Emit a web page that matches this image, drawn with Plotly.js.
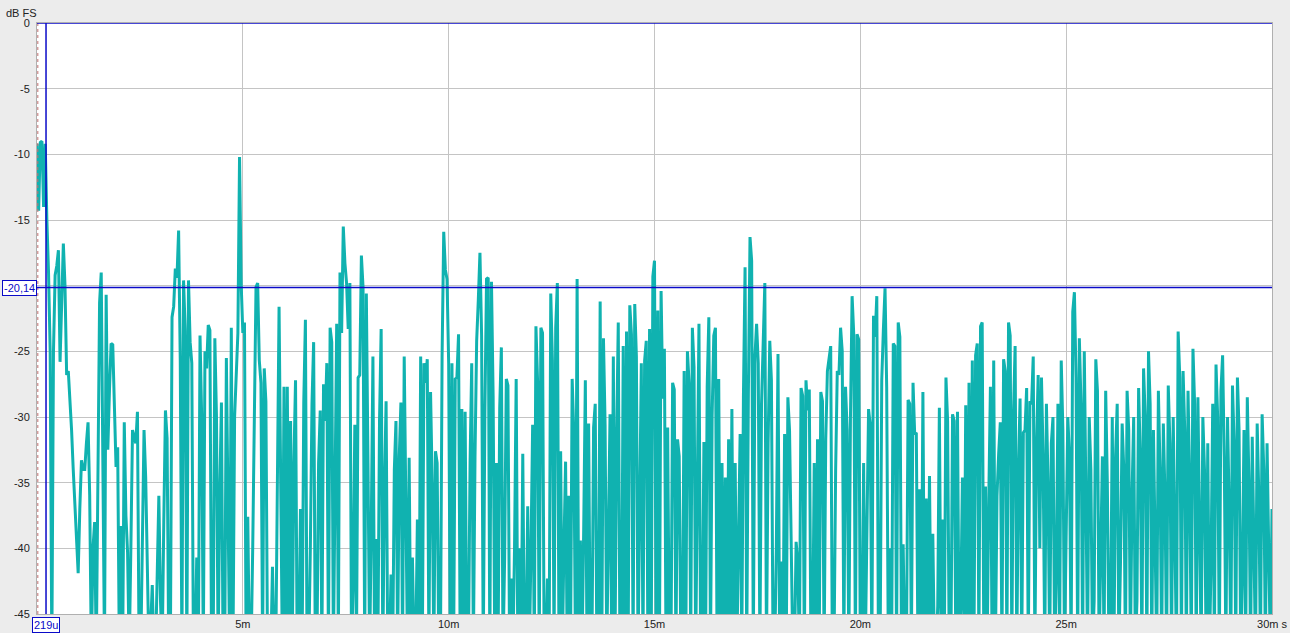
<!DOCTYPE html>
<html>
<head>
<meta charset="utf-8">
<script src="https://cdn.plot.ly/plotly-3.0.1.min.js"></script>
<style>
html,body{margin:0;padding:0;background:#ececec;}
#chart{width:1290px;height:633px;}
</style>
</head>
<body>
<div id="chart"></div>
<script>
// Sample spacing of the measurement (ms)
const sampleStepMs = 0.04;

// Level in dB FS, one value per sample (values below -45 fall off the bottom of the plot)
const levelDb = [
  // 0 - 3.2 ms
  -9.2,-14.3,-9.1,-9.0,-14,-9.2,-15,-19,-25,-48,
  -25,-19.2,-18.5,-17.3,-25.8,-20,-16.8,-20,-26.8,-26.5,
  -28.5,-31,-34,-37,-39.5,-41.9,-37,-33.3,-34,-34,
  -32,-30.4,-36,-48,-40,-38,-48,-33.5,-21.3,-19,
  -35,-48,-20.7,-32.5,-28,-24.4,-24.5,-29,-33.8,-32.3,
  -48,-38.3,-48,-30.4,-37.5,-40.3,-48,-40,-31,-31.5,
  -32,-29.6,-48,-48,-40,-31,-34.6,-42.7,-48,-46,
  -42.8,-48,-48,-42,-36,-44,-48,-38,-29.5,-31.6,
  // 3.2 - 6.2 ms
  -48,-48,-22.4,-21.6,-18.7,-19.4,-15.8,-25.7,-48,-19.6,
  -23.4,-48,-19.6,-24.3,-25.9,-48,-48,-40.7,-48,-23.8,
  -30,-48,-25,-26.3,-23,-23.4,-48,-48,-24,-30,
  -48,-35.7,-28.9,-48,-48,-25.5,-35.6,-48,-23.2,-48,
  -30,-26.6,-23.6,-10.2,-19.9,-23.6,-22.8,-48,-37.6,-48,
  -48,-40,-29.7,-20.1,-19.8,-25.7,-27.4,-48,-26.3,-28.8,
  -48,-48,-48,-41.4,-48,-48,-31,-21.6,-35,-48,
  -27.7,-48,-27.7,-45.5,-30.3,
  // 6.2 - 9.2 ms
  -48,
  -33.5,-27.2,-48,-48,-37,-48,-28.9,-22.6,-48,-48,
  -40,-29,-24.3,-48,-48,-33.5,-29.5,-48,-27.5,-30.3,
  -25.9,-48,-23.2,-24.3,-48,-32.5,-22.9,-48,-19,-23.6,
  -15.5,-18.3,-19.8,-23.3,-19.8,-48,-42.7,-30.6,-48,-27,
  -26.8,-17.7,-20.1,-48,-20.6,-33.5,-48,-38.5,-25.4,-48,
  -39.3,-48,-30.3,-23.3,-48,-35.5,-28.8,-48,-48,-42,
  -48,-34,-30.3,-48,-33,-28.9,-48,-25.4,-35.7,-48,
  -33.1,-48,-40.7,-48,
  // 9.2 - 12.24 ms
  -48,-37.8,-48,-25.4,-48,-25.9,-27.4,-25.6,-48,-28.1,
  -35,-48,-32.6,-33.5,-48,-48,-25.4,-15.9,-18.8,-19.5,
  -25.9,-48,-25.9,-48,-27.1,-27,-23.7,-48,-29.4,-48,
  -29.6,-48,-48,-33.5,-25.9,-48,-33,-24.2,-21.1,-17.5,
  -23.8,-48,-29.6,-19.5,-19.4,-48,-19.7,-28.4,-48,-33.5,
  -48,-29.3,-24.7,-48,-40.7,-27.1,-27.6,-48,-42.3,-48,
  -40,-27.1,-48,-40,-48,-32.8,-48,-48,-36.8,-48,
  -40,-30.6,-48,-23.1,-27.3,-48,
  // 12.24 - 15.28 ms
  -23.2,-23.6,-48,-48,-42.3,-48,-20.6,-25.7,-48,-23.2,
  -19.8,-48,-32.6,-48,-40,-33.4,-48,-36,-48,-27.1,
  -31.3,-48,-19.5,-48,-39.4,-48,-38.6,-27.2,-48,-30.5,
  -48,-48,-30.8,-29,-48,-48,-21.2,-48,-24,-30.6,
  -48,-36.7,-29.8,-48,-25.4,-48,-31.4,-22.8,-48,-48,
  -24.6,-48,-23.5,-48,-21.5,-23.7,-48,-21.4,-25.4,-48,
  -35.2,-25.9,-48,-25.7,-24.2,-48,-23.3,-48,-19.3,-18.1,
  -48,-21.9,-48,-20.4,-28.6,-24.8,
  // 15.28 - 18.32 ms
  -48,-30.8,-48,-48,-27.4,-27.9,-48,-31.7,-33,-48,
  -48,-26.5,-48,-25,-27.4,-48,-23.2,-26.2,-48,-33.5,
  -22.9,-48,-48,-31.9,-48,-27.7,-22.4,-48,-29.9,-23.8,
  -23.2,-48,-27.1,-48,-33.5,-48,-34.6,-48,-31.7,-48,
  -29.4,-48,-33.5,-48,-40,-31.3,-48,-28.5,-18.6,-48,
  -28.2,-16.3,-18.1,-48,-25.4,-22.9,-25.9,-48,-29,-23.7,
  -19.8,-48,-32,-24.2,-27.2,-48,-48,-39.9,-25.2,-48,
  -41,-48,-31.3,-48,-28.5,-31,
  // 18.32 - 21.36 ms
  -41,-48,-48,-39.5,-41,-48,-27.8,-28.4,-48,-27.2,
  -29.5,-27.9,-48,-48,-33.5,-48,-31.7,-48,-28.1,-28.8,
  -48,-31.7,-26.5,-25.6,-24.6,-48,-48,-34.1,-26.5,-26.8,
  -23.2,-25,-48,-27.7,-31,-48,-30.1,-20.8,-23.7,-48,
  -23.7,-24.1,-48,-48,-33.5,-48,-40.4,-29.4,-30.6,-48,
  -22.3,-23.9,-20.8,-48,-48,-27.2,-23.3,-20.2,-27.7,-48,
  -40,-48,-24.4,-24.6,-48,-22.8,-23.9,-48,-39.7,-48,
  -48,-28.7,-29,-48,-27.4,-31.3,
  // 21.36 - 24.4 ms
  -31.2,-48,-35.5,-48,-28.1,-48,-36.2,-48,-34.5,-48,
  -38.9,-48,-48,-44.4,-29.3,-48,-37.8,-48,-27,-30.3,
  -48,-48,-29.8,-30.3,-48,-29.6,-48,-44.4,-34.6,-48,
  -29.1,-48,-27.4,-48,-25.7,-48,-25.3,-24.4,-48,-23.1,
  -22.8,-48,-35.3,-48,-36.3,-27.7,-48,-25.7,-48,-36,
  -32.8,-30.4,-48,-25.6,-26.5,-48,-22.8,-23.8,-48,-29.8,
  -24.6,-48,-34.3,-28.6,-48,-31.2,-31,-27.8,-48,-28.8,
  -29,-25.4,-48,-32,-26.8,-40,
  // 24.4 - 30 ms
  -27,-33,-48,-29,-35,-48,-32,-30,-48,-42,
  -29,-48,-25.7,-31,-48,-38,-30,-33,-48,-22,
  -20.5,-27,-48,-24,-29,-48,-25,-36,-48,-30,
  -34,-48,-44,-25.6,-28,-48,-40,-33,-48,-28,
  -35,-48,-46,-30,-48,-33,-29,-48,-41,-30.5,
  -34,-48,-28,-31,-48,-36,-30,-48,-44,-27.8,
  -33,-48,-26.3,-30,-48,-25,-29,-48,-31,-38,
  -48,-28,-34,-48,-30.5,-36,-48,-27.6,-32,-48,
  -30,-39,-48,-23.5,-27,-48,-26.5,-31,-48,-28,
  -35,-48,-24.8,-29,-48,-28.5,-40,-48,-30,-34,
  -48,-32,-48,-41,-29,-48,-26,-30,-48,-28,
  -25.3,-33,-48,-30,-37,-48,-27.6,-32,-48,-27,
  -31,-48,-42,-31,-48,-28.5,-35,-48,-31.5,-40,
  -48,-30.5,-36,-48,-29.8,-34,-48,-32,-38,-48,-37
];

const timeMs = levelDb.map((_, i) => +(i * sampleStepMs).toFixed(3));

const yTickVals = [0, -5, -10, -15, -20, -25, -30, -35, -40, -45];
// the -20 label sits under the cursor readout box, as in the reference
const yTickText = ["0", "-5", "-10", "-15", "", "-25", "-30", "-35", "-40", "-45"];
const xTickVals = [5, 10, 15, 20, 25, 30];
const xTickText = ["5m", "10m", "15m", "20m", "25m", "30m s"];

const cursorTimeMs = 0.219;
const cursorTimeLabel = "219u";
const cursorLevelDb = -20.14;
const cursorLevelLabel = "-20,14";
const yUnitLabel = "dB FS";

const FONT = "Liberation Sans, Arial, sans-serif";
const CURSOR = "#0a0ac8";

const trace = {
  x: timeMs,
  y: levelDb,
  type: "scatter",
  mode: "lines",
  line: { color: "#10b2b0", width: 3 },
  hoverinfo: "x+y"
};

const layout = {
  width: 1290,
  height: 633,
  margin: { l: 37, r: 18, t: 23, b: 19, pad: 0 },
  paper_bgcolor: "#ececec",
  plot_bgcolor: "#ffffff",
  showlegend: false,
  font: { family: FONT, size: 11, color: "#222" },
  xaxis: {
    range: [0, 30],
    tickvals: xTickVals,
    ticktext: xTickText,
    showgrid: true,
    gridcolor: "#c4c4c4",
    gridwidth: 1,
    zeroline: false,
    showline: true,
    linecolor: "#b0b0b0",
    mirror: true,
    ticks: "",
    tickfont: { family: FONT, size: 11, color: "#222" },
    fixedrange: true
  },
  yaxis: {
    range: [-45, 0],
    tickvals: yTickVals,
    ticktext: yTickText,
    showgrid: true,
    gridcolor: "#c4c4c4",
    gridwidth: 1,
    zeroline: false,
    showline: true,
    linecolor: "#b0b0b0",
    mirror: true,
    ticks: "",
    ticklabelstandoff: 4,
    tickfont: { family: FONT, size: 11, color: "#222" },
    fixedrange: true
  },
  shapes: [
    { type: "line", xref: "x", yref: "paper", x0: 0.02, x1: 0.02, y0: 0, y1: 1,
      line: { color: "#c07070", width: 1, dash: "dot" } },
    { type: "line", xref: "paper", yref: "y", x0: 0, x1: 1, y0: 0, y1: 0,
      line: { color: CURSOR, width: 1.5 } },
    { type: "line", xref: "x", yref: "paper", x0: cursorTimeMs, x1: cursorTimeMs, y0: 0, y1: 1,
      line: { color: CURSOR, width: 1.5 } },
    { type: "line", xref: "paper", yref: "y", x0: 0, x1: 1, y0: cursorLevelDb, y1: cursorLevelDb,
      line: { color: CURSOR, width: 1.5 } }
  ],
  annotations: [
    { text: yUnitLabel, xref: "paper", yref: "paper", x: -0.027, y: 1, xanchor: "left", yanchor: "bottom",
      yshift: 2, showarrow: false, font: { family: FONT, size: 11, color: "#222" } },
    { text: cursorLevelLabel, xref: "paper", yref: "y", x: 0, y: cursorLevelDb, xanchor: "right", yanchor: "middle",
      showarrow: false, bgcolor: "#ffffff", bordercolor: CURSOR, borderwidth: 1, borderpad: 1,
      font: { family: FONT, size: 11, color: CURSOR } },
    { text: cursorTimeLabel, xref: "x", yref: "paper", x: cursorTimeMs, y: 0, xanchor: "center", yanchor: "top",
      yshift: -3, showarrow: false, bgcolor: "#ffffff", bordercolor: CURSOR, borderwidth: 1, borderpad: 1,
      font: { family: FONT, size: 11, color: CURSOR } }
  ]
};

Plotly.newPlot("chart", [trace], layout, { displayModeBar: false, staticPlot: true });
</script>
</body>
</html>
